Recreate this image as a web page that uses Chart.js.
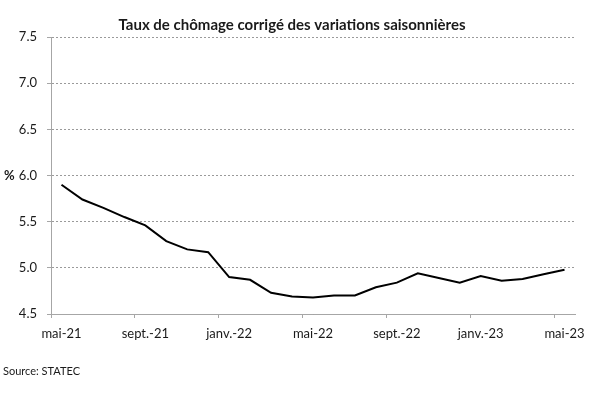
<!DOCTYPE html>
<html>
<head>
<meta charset="utf-8">
<script src="https://cdn.jsdelivr.net/npm/chart.js@4/dist/chart.umd.min.js"></script>
<style>
  html, body { margin: 0; padding: 0; background: #fff; }
  #wrap { width: 600px; height: 395px; }
</style>
</head>
<body>
<div id="wrap"><canvas id="chart" width="600" height="395"></canvas></div>
<script>
// monthly categories, May 2021 - May 2023
const months = [
  'mai-21', 'juin-21', 'juil.-21', 'août-21', 'sept.-21', 'oct.-21', 'nov.-21', 'déc.-21',
  'janv.-22', 'févr.-22', 'mars-22', 'avr.-22', 'mai-22', 'juin-22', 'juil.-22', 'août-22',
  'sept.-22', 'oct.-22', 'nov.-22', 'déc.-22', 'janv.-23', 'févr.-23', 'mars-23', 'avr.-23',
  'mai-23'
];

// unemployment rate, seasonally adjusted (%)
const rate = [
  5.90, 5.74, 5.65, 5.55, 5.46, 5.29, 5.20, 5.17,
  4.90, 4.87, 4.73, 4.69, 4.68, 4.70, 4.70, 4.79,
  4.84, 4.94, 4.89, 4.84, 4.91, 4.86, 4.88, 4.93,
  4.98
];

const yMin = 4.5;
const yMax = 7.5;
const yStep = 0.5;
const labelEvery = 4;

const titleText = 'Taux de chômage corrigé des variations saisonnières';
const unitText = '%';
const sourceText = 'Source: STATEC';

const axisGray = '#a6a6a6';
const gridGray = '#9a9a9a';
const textColor = '#1a1a1a';

// title, unit and source notes drawn straight on the canvas
const notes = {
  id: 'notes',
  afterDraw(chart) {
    const ctx = chart.ctx;
    ctx.save();
    ctx.fillStyle = textColor;
    ctx.textBaseline = 'alphabetic';
    ctx.textAlign = 'center';
    ctx.font = 'bold 15px Lato';
    ctx.fillText(titleText, 292, 30);

    ctx.textAlign = 'left';
    ctx.textBaseline = 'middle';
    ctx.font = 'bold 13px Lato';
    ctx.fillText(unitText, 4, chart.scales.y.getPixelForValue(6.0));

    ctx.font = '11px Lato';
    ctx.fillText(sourceText, 3, 371);
    ctx.restore();
  }
};

new Chart(document.getElementById('chart'), {
  type: 'line',
  data: {
    labels: months,
    datasets: [{
      data: rate,
      borderColor: '#000000',
      borderWidth: 2,
      pointRadius: 0,
      tension: 0,
      fill: false
    }]
  },
  options: {
    responsive: false,
    animation: false,
    layout: {
      padding: { left: 0, right: 25, top: 37, bottom: 41 }
    },
    plugins: {
      legend: { display: false },
      title: { display: false },
      tooltip: { enabled: false }
    },
    scales: {
      x: {
        type: 'category',
        offset: true,
        afterFit(scale) { scale.height = 40; },
        border: { color: axisGray, width: 1 },
        grid: {
          offset: true,
          drawOnChartArea: false,
          drawTicks: true,
          tickLength: 4,
          color: (c) => (c.index !== undefined && c.index % labelEvery === 0 ? axisGray : 'transparent')
        },
        ticks: {
          autoSkip: false,
          maxRotation: 0,
          padding: 8,
          color: textColor,
          font: { family: 'Lato', size: 13 },
          callback: (v, i) => (i % labelEvery === 0 ? months[i] : '')
        }
      },
      y: {
        min: yMin,
        max: yMax,
        afterFit(scale) { scale.width = 51; },
        border: { color: axisGray, width: 1, dash: [2, 2] },
        grid: {
          color: gridGray,
          tickColor: axisGray,
          tickLength: 4,
          tickBorderDash: []
        },
        ticks: {
          stepSize: yStep,
          padding: 10,
          color: textColor,
          font: { family: 'Lato', size: 13 },
          callback: (v) => Number(v).toFixed(1)
        }
      }
    }
  },
  plugins: [notes]
});
</script>
</body>
</html>
